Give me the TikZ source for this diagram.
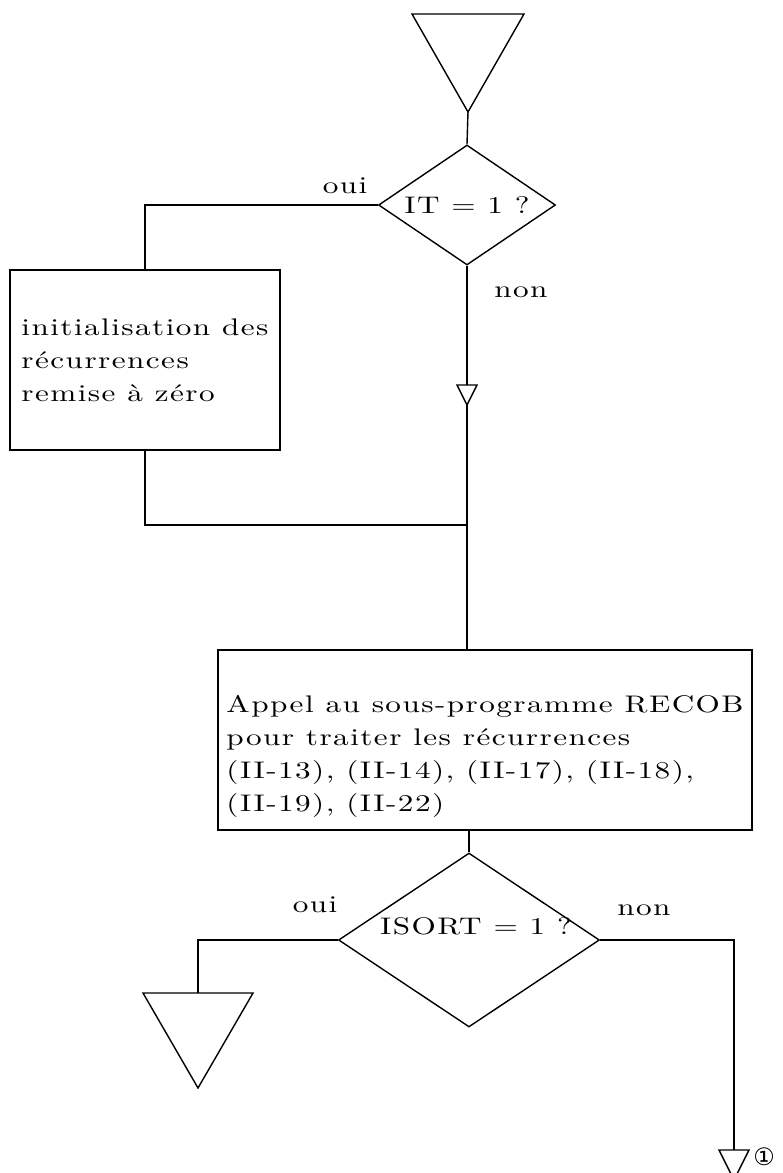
\documentclass[tikz,border=0pt]{standalone}
\usepackage{fontspec}
\setmainfont{lmroman10-regular}[Extension=.otf, FakeStretch=1.3, LetterSpace=6]
\newfontfamily\circfont{DejaVu Sans}
\usepackage{tikz}
\usetikzlibrary{positioning,shapes.geometric,calc}

\tikzset{
  boite/.style={draw, rectangle, inner sep=2pt, align=left},
  test/.style={draw, diamond, inner sep=0pt},
  lbl/.style={inner sep=1pt},
}

\begin{document}
\begin{tikzpicture}[x=0.5pt, y=-0.5pt, line width=0.7pt,
    font=\fontsize{12}{16.5}\selectfont]
  \useasboundingbox (0,0) rectangle (782,1173);
  % triangles de renvoi
  \foreach \cx/\by/\hw/\ht/\nm in {468/14/56/98/tA, 467/385/10/20/tB, 198/993/55/95/tC, 734/1150/15/30/tD}{
    \draw (\cx-\hw,\by) -- (\cx+\hw,\by) -- (\cx,\by+\ht) -- cycle;
    \coordinate (\nm-top) at (\cx,\by);
    \coordinate (\nm-tip) at (\cx,\by+\ht);
  }
  % tests et boites
  \node[test, aspect=1.475, minimum width=88.5pt, minimum height=60pt] (d1) at (467,205) {IT = 1 ?};
  \node[boite, minimum width=135pt, minimum height=90pt] (b1) at (145,360)
    {initialisation des\\r\'ecurrences\\remise \`a z\'ero};
  \coordinate (join) at (467,525);
  \node[boite, minimum width=267pt, minimum height=90pt] (b2) at (485,740)
    {\rule{0pt}{25pt}Appel au sous-programme RECOB\\pour traiter les r\'ecurrences\\(II-13), (II-14), (II-17), (II-18),\\(II-19), (II-22)};
  \node[test, aspect=1.5, minimum width=130.5pt, minimum height=87pt] (d2) at (469,940)
    {\raisebox{7pt}[\height][\depth]{\hspace{7pt}ISORT = 1 ?}};
  % liaisons
  \draw (tA-tip) -- (d1.north);
  \draw (d1.west) -| (b1.north);
  \draw (d1.south) -- (tB-top);
  \draw (tB-tip) -- (join);
  \draw (b1.south) |- (join);
  \draw (join) -- (join |- b2.north);
  \draw (b2.south -| d2.north) -- (d2.north);
  \draw (d2.west) -| (tC-top);
  \draw (d2.east) -| (tD-top);
  % etiquettes
  \node[lbl] (oui1) at (345,186) {oui};
  \node[lbl] (non1) at (521,292) {non};
  \node[lbl] (oui2) at (315,905) {oui};
  \node[lbl] (non2) at (644,910) {non};
  \node[lbl, font=\circfont\fontsize{12}{12}\selectfont] (un) at (764,1157) {①};
\end{tikzpicture}
\end{document}
